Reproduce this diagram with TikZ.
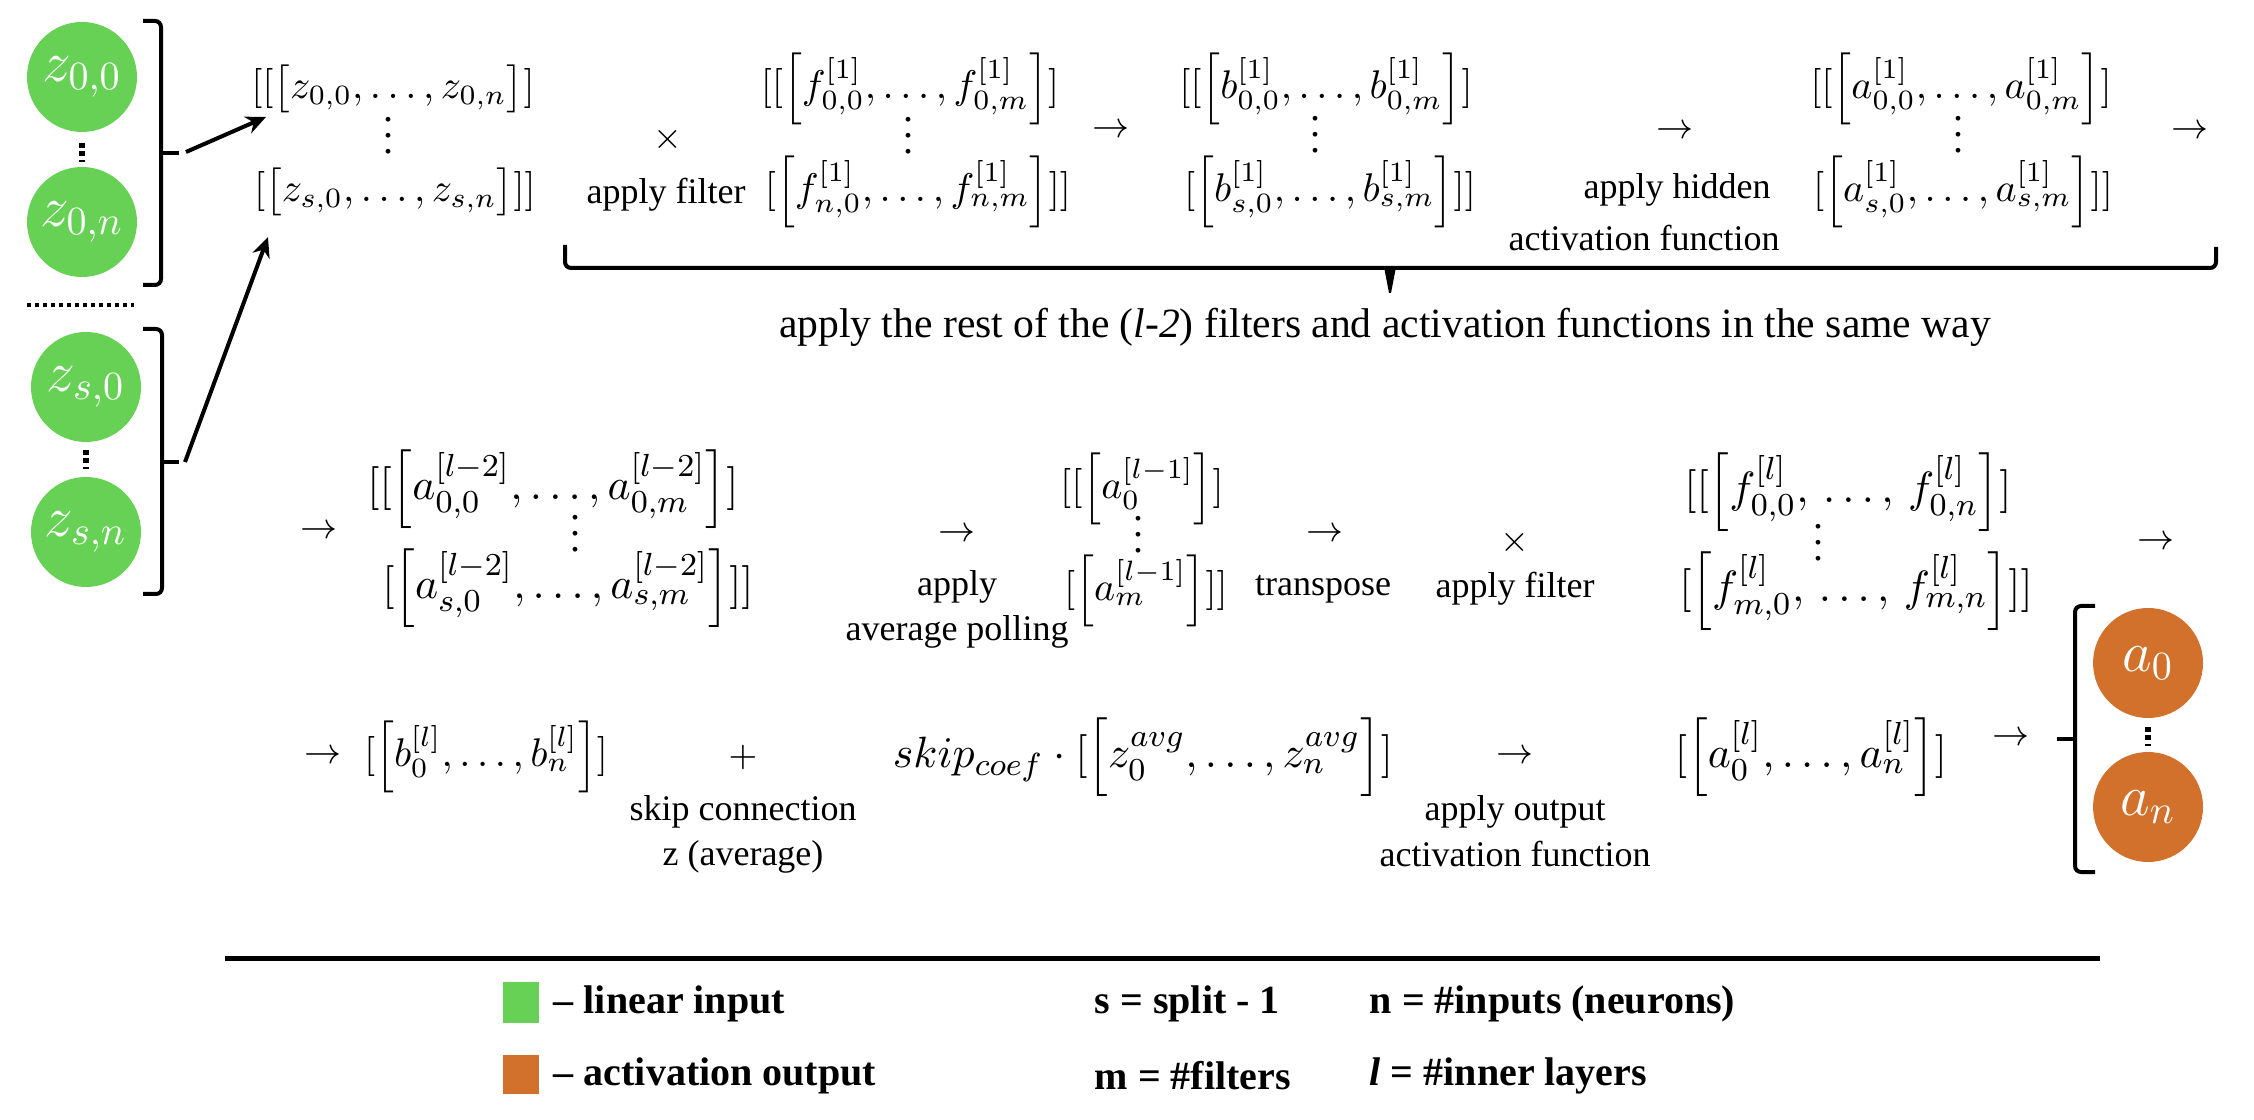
\documentclass[tikz,border=0pt]{standalone}
\usepackage{amsmath}
\usepackage{fontspec}
\setmainfont{Liberation Serif}
\usetikzlibrary{arrows.meta}
\definecolor{ingreen}{HTML}{66D155}
\definecolor{outorange}{HTML}{D2712C}
\begin{document}
\begin{tikzpicture}[x=0.25pt,y=-0.25pt,
  lbl/.style={font=\fontsize{9}{11}\selectfont, inner sep=0pt},
  mtx/.style={font=\fontsize{10}{12}\selectfont, inner sep=0pt},
  mtxb/.style={font=\fontsize{10.95}{13}\selectfont, inner sep=0pt},
  vd/.style={font=\fontsize{10}{12}\selectfont, inner sep=0pt, anchor=base},
  sym/.style={font=\fontsize{9.5}{11}\selectfont, inner sep=0pt},
  neuron/.style={circle, minimum size=27.5pt, inner sep=0pt, text=white, font=\fontsize{14.4}{16}\selectfont},
  brk/.style={line width=1pt, rounded corners=1.5pt},
  thk/.style={line width=1pt},
  conn/.style={line width=1pt, -{Stealth[length=5pt,width=4.5pt]}},
  dotv/.style={line width=1.5pt, dash pattern=on 1.25pt off 0.875pt},
  leg/.style={font=\bfseries\fontsize{10}{12}\selectfont, inner sep=0pt, anchor=west},
]
\useasboundingbox (0,0) rectangle (2254,1120);

% ---- input neurons
\node[neuron, fill=ingreen] (z00) at (82,77) {$z_{0,0}$};
\node[neuron, fill=ingreen] (z0n) at (82,222) {$z_{0,n}$};
\node[neuron, fill=ingreen] (zs0) at (86,387) {$z_{s,0}$};
\node[neuron, fill=ingreen] (zsn) at (86,532) {$z_{s,n}$};
\draw[dotv] (82,143) -- (82,162);
\draw[dotv] (86,450) -- (86,469);
\draw[line width=1pt, dash pattern=on 1pt off 1pt] (27,305) -- (134,305);
\draw[brk] (143,21) -- (161,21) -- (161,285) -- (143,285);
\draw[thk] (161,153) -- (179,153);
\draw[brk] (143,329) -- (162,329) -- (162,594) -- (143,594);
\draw[thk] (162,462) -- (179,462);
\coordinate (b1) at (186,152);
\coordinate (b2) at (185,462);
\coordinate (e1) at (266,117);
\coordinate (e2) at (268,237);

% ---- row 1
\node[mtx] (Z0) at (393,89) {$[[\bigl[z_{0,0},\dots,z_{0,n}\bigr]]$};
\node[vd] (Zd) at (388,154) {$\smash{\vdots}$};
\node[mtx] (Zs) at (395,192) {$[\bigl[z_{s,0},\dots,z_{s,n}\bigr]]]$};
\draw[conn] (b1) -- (e1);
\draw[conn] (b2) -- (e2);
\node[sym] (x1) at (668,140) {$\times$};
\node[lbl] (af1) at (666,195) {apply filter};
\node[mtx] (F0) at (910,89) {$[[\Bigl[f^{[1]}_{0,0},\dots,f^{[1]}_{0,m}\Bigr]]$};
\node[vd] (Fd) at (908,154) {$\smash{\vdots}$};
\node[mtx] (Fn) at (918,192) {$[\Bigl[f^{[1]}_{n,0},\dots,f^{[1]}_{n,m}\Bigr]]]$};
\node[sym] (r1) at (1111,131) {$\rightarrow$};
\node[mtx] (B0) at (1326,89) {$[[\Bigl[b^{[1]}_{0,0},\dots,b^{[1]}_{0,m}\Bigr]]$};
\node[vd] (Bd) at (1315,153) {$\smash{\vdots}$};
\node[mtx] (Bs) at (1330,192) {$[\Bigl[b^{[1]}_{s,0},\dots,b^{[1]}_{s,m}\Bigr]]]$};
\node[sym] (r2) at (1675,132) {$\rightarrow$};
\node[lbl] (ah) at (1677,190) {apply hidden};
\node[lbl] (afn) at (1644,238) {activation function};
\node[mtx] (A0) at (1961,89) {$[[\Bigl[a^{[1]}_{0,0},\dots,a^{[1]}_{0,m}\Bigr]]$};
\node[vd] (Ad) at (1958,153) {$\smash{\vdots}$};
\node[mtx] (As) at (1963,192) {$[\Bigl[a^{[1]}_{s,0},\dots,a^{[1]}_{s,m}\Bigr]]]$};
\node[sym] (r3) at (2190,132) {$\rightarrow$};

% brace under row 1
\draw[brk] (565,245) -- (565,268) -- (2216,268) -- (2216,247);
\fill (1384,267) -- (1396,267) -- (1391,293) -- (1389,293) -- cycle;
\node[font=\fontsize{10.4}{12}\selectfont, inner sep=0pt] (rest) at (1385,327) {apply the rest of the (\textit{l-2}) filters and activation functions in the same way};

% ---- row 2
\node[sym] (r4) at (319,532) {$\rightarrow$};
\node[mtxb] (P0) at (553,489) {$[[\Bigl[a^{[l-2]}_{0,0},\dots,a^{[l-2]}_{0,m}\Bigr]]$};
\node[vd] (Pd) at (575,552) {$\smash{\vdots}$};
\node[mtxb] (Ps) at (568,588) {$[\Bigl[a^{[l-2]}_{s,0},\dots,a^{[l-2]}_{s,m}\Bigr]]]$};
\node[sym] (r5) at (957,535) {$\rightarrow$};
\node[lbl] (ap) at (957,587) {apply};
\node[lbl] (avg) at (957,632) {average polling};
\node[mtx] (Q0) at (1142,489) {$[[\Bigl[a^{[l-1]}_{0}\Bigr]]$};
\node[vd] (Qd) at (1138,553) {$\smash{\vdots}$};
\node[mtx] (Qm) at (1146,591) {$[\Bigl[a^{[l-1]}_{m}\Bigr]]]$};
\node[sym] (r6) at (1325,535) {$\rightarrow$};
\node[lbl] (tr) at (1323,589) {transpose};
\node[sym] (x2) at (1515,543) {$\times$};
\node[lbl] (af2) at (1515,589) {apply filter};
\node[mtxb] (G0) at (1848,492) {$[[\Bigl[f^{[l]}_{0,0},\,\dots,\,f^{[l]}_{0,n}\Bigr]]$};
\node[vd] (Gd) at (1818,561) {$\smash{\vdots}$};
\node[mtxb] (Gm) at (1856,591) {$[\Bigl[f^{[l]}_{m,0},\,\dots,\,f^{[l]}_{m,n}\Bigr]]]$};
\node[sym] (r7) at (2156,543) {$\rightarrow$};

% ---- row 3
\node[sym] (r8) at (323,757) {$\rightarrow$};
\node[mtx] (Bl) at (486,757) {$[\Bigl[b^{[l]}_{0},\dots,b^{[l]}_{n}\Bigr]]$};
\node[sym] (plus) at (743,757) {$+$};
\node[lbl] (sc) at (743,812) {skip connection};
\node[lbl] (za) at (743,857) {z (average)};
\node[mtxb] (sk) at (1143,757) {$skip_{coef}\cdot[\Bigl[z^{avg}_{0},\dots,z^{avg}_{n}\Bigr]]$};
\node[sym] (r9) at (1515,757) {$\rightarrow$};
\node[lbl] (ao) at (1515,812) {apply output};
\node[lbl] (af3) at (1515,854) {activation function};
\node[mtxb] (Al) at (1811,757) {$[\Bigl[a^{[l]}_{0},\dots,a^{[l]}_{n}\Bigr]]$};
\node[sym] (r10) at (2011,739) {$\rightarrow$};

% ---- output neurons
\node[neuron, fill=outorange] (a0) at (2148,663) {$a_{0}$};
\node[neuron, fill=outorange] (an) at (2148,807) {$a_{n}$};
\draw[dotv] (2148,727) -- (2148,746);
\draw[brk] (2095,606) -- (2075,606) -- (2075,872) -- (2095,872);
\draw[thk] (2075,739) -- (2057,739);

% ---- legend
\draw[line width=1.25pt] (225,958) -- (2100,958);
\fill[ingreen] (503,982) rectangle (539,1023);
\node[leg] (l1) at (553,1004) {– linear input};
\fill[outorange] (503,1055) rectangle (539,1094);
\node[leg] (l2) at (553,1076) {– activation output};
\node[leg] (l3) at (1094,1004) {s = split - 1};
\node[leg] (l4) at (1369,1004) {n = \#inputs (neurons)};
\node[leg] (l5) at (1094,1076) {m = \#filters};
\node[leg] (l6) at (1369,1076) {\textit{l} = \#inner layers};
\end{tikzpicture}
\end{document}
